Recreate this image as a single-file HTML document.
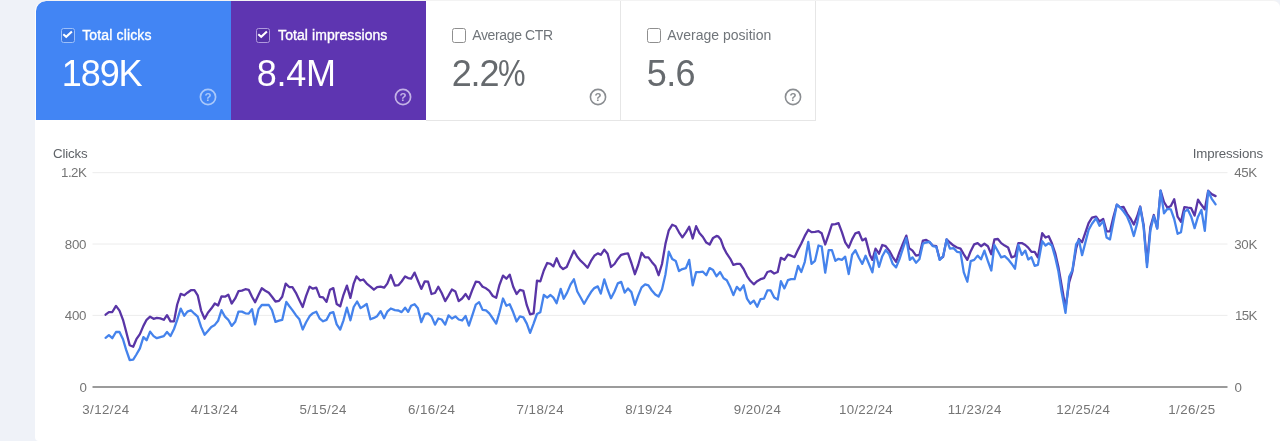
<!DOCTYPE html>
<html lang="en">
<head>
<meta charset="utf-8">
<title>Search performance</title>
<style>
html,body{margin:0;padding:0;}
body{width:1280px;height:441px;overflow:hidden;background:#eff2f8;font-family:"Liberation Sans",Arial,sans-serif;position:relative;}
.card{position:absolute;left:35px;top:0;width:1245px;height:441px;background:#fff;border-radius:11px 7px 0 4px;overflow:hidden;box-sizing:border-box;border-top:1px solid #f3f3f3;}
.tiles{position:absolute;left:0.5px;top:0;height:118.5px;display:flex;}
.tile{position:relative;width:195px;height:118.5px;box-sizing:border-box;}
.tile.blue{background:#4285f4;color:#fff;border-top-left-radius:10px;}
.tile.purple{background:#5e35b1;color:#fff;}
.tile.off{background:#fff;color:#5f6368;border-right:1px solid #e6e6e6;border-bottom:1px solid #e6e6e6;height:119.5px;}
.cb{position:absolute;left:25.4px;top:27.2px;width:14.5px;height:14.5px;box-sizing:border-box;border-radius:2.5px;}
.blue .cb{border:1.8px solid #9cc0fa;background:#3a78e4;}
.purple .cb{border:1.8px solid #b09ade;background:#5630a6;}
.off .cb{border:1.5px solid #8f8f8f;background:#fff;margin-left:0.8px;}
.cb svg{position:absolute;left:-1.8px;top:-1.8px;}
.lbl{position:absolute;left:46.7px;top:23.8px;font-size:14px;line-height:20px;white-space:nowrap;}
.on .lbl{font-weight:400;-webkit-text-stroke:0.35px #fff;}
.off .lbl{color:#70757a;}
.val{position:absolute;left:26.3px;top:52.5px;font-size:36px;line-height:40px;white-space:nowrap;}
.off .val{color:#666a6e;}
.help{position:absolute;left:162.5px;top:86.1px;width:20px;height:20px;}
.chart{position:absolute;left:0;top:0;}
.chart text{font-family:"Liberation Sans",Arial,sans-serif;font-size:13.3px;fill:#757575;}
.chart text.ttl{fill:#5f6368;}
</style>
</head>
<body>
<div class="card">
  <div class="tiles">
    <div class="tile blue on">
      <span class="cb"><svg width="14.5" height="14.5" viewBox="0 0 14.5 14.5"><path d="M3.3 7.3 L6.2 9.8 L11.9 4.5" fill="none" stroke="#fff" stroke-width="2.1" stroke-linecap="butt"/></svg></span>
      <span class="lbl" style="letter-spacing:0.15px">Total clicks</span>
      <span class="val" style="letter-spacing:-1.1px">189K</span>
      <svg class="help" viewBox="0 0 20 20"><circle cx="10" cy="10" r="7.6" fill="none" stroke="#a9c8fa" stroke-width="1.7"/><text x="10" y="14" text-anchor="middle" font-family="Liberation Sans, Arial, sans-serif" font-size="11.5" font-weight="bold" fill="#a9c8fa">?</text></svg>
    </div>
    <div class="tile purple on">
      <span class="cb"><svg width="14.5" height="14.5" viewBox="0 0 14.5 14.5"><path d="M3.3 7.3 L6.2 9.8 L11.9 4.5" fill="none" stroke="#fff" stroke-width="2.1" stroke-linecap="butt"/></svg></span>
      <span class="lbl" style="left:47.6px;letter-spacing:0.07px">Total impressions</span>
      <span class="val" style="letter-spacing:-0.3px">8.4M</span>
      <svg class="help" viewBox="0 0 20 20"><circle cx="10" cy="10" r="7.6" fill="none" stroke="#c3b2e6" stroke-width="1.7"/><text x="10" y="14" text-anchor="middle" font-family="Liberation Sans, Arial, sans-serif" font-size="11.5" font-weight="bold" fill="#c3b2e6">?</text></svg>
    </div>
    <div class="tile off">
      <span class="cb"></span>
      <span class="lbl" style="letter-spacing:-0.36px">Average CTR</span>
      <span class="val" style="letter-spacing:-1.2px">2.2<span style="display:inline-block;transform:scaleX(.86);transform-origin:0 0;">%</span></span>
      <svg class="help" viewBox="0 0 20 20"><circle cx="10" cy="10" r="7.6" fill="none" stroke="#8a8d91" stroke-width="1.6"/><text x="10" y="14" text-anchor="middle" font-family="Liberation Sans, Arial, sans-serif" font-size="11.5" font-weight="bold" fill="#8a8d91">?</text></svg>
    </div>
    <div class="tile off">
      <span class="cb"></span>
      <span class="lbl">Average position</span>
      <span class="val" style="letter-spacing:-0.6px">5.6</span>
      <svg class="help" viewBox="0 0 20 20"><circle cx="10" cy="10" r="7.6" fill="none" stroke="#8a8d91" stroke-width="1.6"/><text x="10" y="14" text-anchor="middle" font-family="Liberation Sans, Arial, sans-serif" font-size="11.5" font-weight="bold" fill="#8a8d91">?</text></svg>
    </div>
  </div>
</div>
<svg class="chart" width="1280" height="441" viewBox="0 0 1280 441">
  <g stroke="#ececec" stroke-width="1">
    <line x1="92.5" y1="172.7" x2="1227.5" y2="172.7"/>
    <line x1="92.5" y1="244.0" x2="1227.5" y2="244.0"/>
    <line x1="92.5" y1="315.4" x2="1227.5" y2="315.4"/>
  </g>
  <line x1="92.5" y1="387.1" x2="1227.5" y2="387.1" stroke="#7a7a7a" stroke-width="1.5"/>
  <text class="ttl" x="53" y="158.4" textLength="34.6" lengthAdjust="spacing">Clicks</text>
  <text x="61" y="176.8" textLength="25.8" lengthAdjust="spacing">1.2K</text>
  <text x="64.8" y="248.6" textLength="21.7" lengthAdjust="spacing">800</text>
  <text x="64.8" y="319.8" textLength="21.7" lengthAdjust="spacing">400</text>
  <text x="79.6" y="391.8">0</text>
  <text class="ttl" x="1192.8" y="158.4" textLength="70.3" lengthAdjust="spacing">Impressions</text>
  <text x="1234.3" y="176.8" textLength="22.8" lengthAdjust="spacing">45K</text>
  <text x="1234.3" y="248.6" textLength="23" lengthAdjust="spacing">30K</text>
  <text x="1235" y="319.8" textLength="22.4" lengthAdjust="spacing">15K</text>
  <text x="1234.6" y="391.8">0</text>
  <text x="82.2" y="414.2" textLength="47" lengthAdjust="spacing">3/12/24</text>
<text x="190.8" y="414.2" textLength="47" lengthAdjust="spacing">4/13/24</text>
<text x="299.4" y="414.2" textLength="47" lengthAdjust="spacing">5/15/24</text>
<text x="408.0" y="414.2" textLength="47" lengthAdjust="spacing">6/16/24</text>
<text x="516.6" y="414.2" textLength="47" lengthAdjust="spacing">7/18/24</text>
<text x="625.2" y="414.2" textLength="47" lengthAdjust="spacing">8/19/24</text>
<text x="733.8" y="414.2" textLength="47" lengthAdjust="spacing">9/20/24</text>
<text x="839.1" y="414.2" textLength="53.6" lengthAdjust="spacing">10/22/24</text>
<text x="947.7" y="414.2" textLength="53.6" lengthAdjust="spacing">11/23/24</text>
<text x="1056.3" y="414.2" textLength="53.6" lengthAdjust="spacing">12/25/24</text>
<text x="1168.2" y="414.2" textLength="47" lengthAdjust="spacing">1/26/25</text>

  <path d="M105.6 314.7 L108.9 312.2 L112.3 312.0 L116.0 305.9 L119.5 310.6 L123.0 319.8 L126.0 331.0 L129.7 345.3 L133.2 346.7 L136.4 339.2 L139.9 334.1 L143.4 325.9 L146.6 319.8 L150.1 316.7 L153.6 318.8 L156.8 317.8 L160.3 318.4 L163.8 319.8 L167.0 315.1 L170.5 321.4 L174.0 321.4 L177.2 304.5 L180.7 293.9 L184.2 295.3 L187.4 292.7 L190.9 290.2 L194.4 290.2 L197.7 295.3 L201.1 310.6 L204.6 318.8 L207.9 312.7 L211.3 308.6 L214.8 303.5 L218.1 305.5 L221.5 296.3 L225.0 296.7 L228.3 294.7 L231.7 303.5 L235.2 298.4 L238.5 291.2 L241.9 290.6 L245.4 289.2 L248.7 289.8 L252.0 296.8 L255.1 302.3 L258.6 294.8 L261.8 288.3 L265.3 290.7 L268.8 292.8 L272.0 296.8 L275.5 301.5 L279.0 300.9 L282.2 296.8 L285.7 283.6 L289.2 287.0 L292.4 287.2 L295.9 292.8 L299.4 300.3 L302.7 307.0 L306.1 295.8 L309.6 286.6 L312.9 288.7 L316.3 287.7 L319.8 296.8 L323.1 297.4 L326.5 301.9 L330.0 289.7 L333.3 288.1 L336.7 304.0 L340.2 306.4 L343.5 294.8 L346.9 285.6 L350.4 297.9 L353.7 283.6 L356.5 276.4 L360.2 280.5 L363.3 279.5 L366.7 283.6 L370.4 286.6 L373.9 289.7 L377.1 287.2 L380.6 286.6 L384.1 287.7 L387.3 283.6 L390.8 275.0 L394.9 285.6 L398.4 285.2 L401.6 281.5 L405.1 276.4 L408.1 278.1 L411.1 278.7 L414.6 272.6 L417.9 280.7 L421.3 288.9 L424.8 281.3 L428.1 281.7 L431.5 294.0 L435.0 293.0 L438.3 286.8 L441.7 293.0 L445.2 301.1 L448.5 295.6 L451.9 289.5 L455.4 291.5 L458.7 301.1 L462.1 298.5 L465.6 294.0 L468.9 299.1 L472.3 289.9 L475.8 281.7 L479.1 282.1 L482.6 286.8 L486.0 288.3 L489.3 290.9 L492.8 296.0 L496.2 297.7 L499.5 284.8 L503.0 275.6 L506.4 278.7 L509.7 274.6 L513.2 286.8 L516.6 294.0 L519.9 289.9 L523.4 290.9 L526.8 305.2 L530.1 314.4 L533.6 313.4 L537.0 280.7 L540.3 281.3 L543.8 270.5 L547.2 263.0 L550.5 263.8 L553.4 266.4 L556.6 258.3 L560.1 266.4 L563.1 269.1 L566.7 267.0 L570.2 258.9 L573.9 250.7 L577.3 256.8 L580.8 260.9 L584.1 264.0 L587.6 267.7 L591.0 260.9 L594.3 255.8 L597.8 253.4 L600.8 254.8 L604.3 249.7 L607.6 253.8 L611.0 267.0 L614.5 264.0 L617.8 258.9 L621.2 254.8 L624.7 253.8 L628.0 253.4 L631.4 263.0 L634.9 274.2 L638.2 265.0 L641.6 252.8 L645.1 257.4 L648.4 257.4 L651.8 261.9 L655.3 266.0 L658.6 275.2 L662.0 264.0 L665.5 243.6 L668.8 230.3 L672.2 224.8 L675.7 226.2 L679.0 232.3 L682.4 237.4 L685.9 232.3 L689.2 226.8 L692.7 238.5 L696.1 226.2 L699.4 233.0 L702.9 237.0 L706.3 242.6 L709.6 244.6 L713.1 237.9 L716.5 236.0 L718.1 236.3 L720.7 239.4 L723.6 247.6 L726.8 253.7 L730.3 258.8 L733.4 264.9 L736.8 263.9 L740.1 263.9 L743.6 269.0 L747.0 276.1 L750.3 280.8 L753.8 284.3 L757.2 281.2 L760.5 279.2 L764.0 278.2 L767.4 272.0 L770.7 271.0 L774.2 273.5 L777.7 272.0 L780.9 257.8 L784.4 259.8 L787.9 254.7 L791.1 255.7 L794.6 257.1 L798.1 249.6 L801.3 243.5 L804.8 235.9 L808.3 229.8 L811.5 232.2 L815.0 231.8 L818.5 231.2 L821.7 233.3 L825.2 244.5 L828.7 234.3 L831.9 224.5 L835.4 224.1 L838.5 223.1 L841.9 232.2 L845.2 242.4 L848.7 247.6 L852.1 239.4 L855.4 233.3 L858.9 232.2 L862.3 240.4 L865.6 238.4 L869.9 254.9 L872.4 259.9 L875.5 248.7 L879.0 253.7 L882.3 245.0 L885.7 246.2 L889.2 250.6 L892.6 256.8 L896.1 261.8 L899.4 252.4 L902.9 243.7 L906.3 235.6 L909.1 248.1 L912.5 250.6 L916.0 255.6 L919.4 254.9 L922.9 240.6 L926.2 240.0 L929.1 241.8 L932.8 245.6 L936.3 246.2 L939.7 259.3 L943.1 256.8 L946.6 239.4 L949.9 242.5 L953.6 245.6 L957.0 247.5 L960.5 248.7 L963.8 254.3 L967.3 259.9 L970.7 251.2 L974.2 244.3 L977.6 243.1 L981.0 246.2 L984.4 243.7 L987.9 246.2 L991.3 254.3 L994.4 239.4 L997.9 239.0 L1001.2 243.1 L1004.7 245.6 L1008.1 247.5 L1011.6 257.4 L1015.0 256.2 L1018.4 243.1 L1021.8 243.1 L1025.3 245.0 L1028.2 247.6 L1031.5 251.9 L1034.7 251.9 L1037.9 257.3 L1042.2 233.2 L1045.5 237.5 L1048.7 236.2 L1051.9 243.3 L1055.2 253.0 L1058.4 267.0 L1061.6 285.3 L1065.5 308.0 L1069.2 282.1 L1072.4 271.3 L1076.1 248.7 L1078.9 239.0 L1082.1 242.2 L1088.6 223.1 L1092.0 217.7 L1096.1 216.6 L1099.5 221.5 L1103.2 219.0 L1106.6 231.3 L1110.0 231.3 L1113.4 217.0 L1116.8 204.7 L1120.2 207.4 L1123.6 207.0 L1127.0 213.6 L1130.4 218.3 L1133.8 224.5 L1137.2 216.3 L1140.2 206.5 L1143.6 224.7 L1147.0 263.2 L1150.4 227.0 L1153.8 215.0 L1157.2 228.1 L1160.6 190.7 L1164.0 202.0 L1167.4 207.7 L1170.8 206.0 L1174.2 199.2 L1177.6 216.7 L1181.0 221.8 L1184.4 207.1 L1187.8 207.7 L1191.2 208.2 L1194.6 215.6 L1198.0 199.7 L1201.4 204.8 L1204.8 209.4 L1208.2 190.7 L1211.6 194.1 L1215.6 196.1" fill="none" stroke="#5935a6" stroke-width="2.3" stroke-linejoin="round" stroke-linecap="round"/>
  <path d="M105.6 337.8 L108.9 335.1 L112.3 338.2 L116.0 332.0 L119.5 332.0 L123.0 339.2 L126.0 349.4 L129.7 360.0 L133.2 359.6 L136.4 354.5 L139.9 348.4 L143.4 337.1 L146.6 340.2 L150.1 331.6 L153.6 336.1 L156.8 338.2 L160.3 337.1 L163.8 336.1 L167.0 332.0 L170.5 336.1 L174.0 329.0 L177.2 319.8 L180.7 308.6 L184.2 315.7 L187.4 311.6 L190.9 310.2 L194.4 313.7 L197.7 316.7 L201.1 326.9 L204.6 334.7 L207.9 331.0 L211.3 326.9 L214.8 324.9 L218.1 320.8 L221.5 310.2 L225.0 316.7 L228.3 319.8 L231.7 325.9 L235.2 321.8 L238.5 311.6 L241.9 311.6 L245.4 313.3 L248.7 313.7 L252.0 309.1 L255.1 324.4 L258.6 309.1 L261.8 305.0 L265.3 305.0 L268.8 305.0 L272.0 310.1 L275.5 321.9 L279.0 320.7 L282.2 319.9 L286.3 301.9 L289.2 306.0 L292.4 310.1 L295.9 315.2 L299.4 319.3 L302.7 329.5 L306.1 322.3 L309.6 316.2 L312.9 313.2 L316.3 311.7 L319.8 318.7 L323.1 321.3 L326.5 319.9 L330.0 313.2 L333.3 312.1 L336.7 324.4 L340.2 329.5 L343.5 320.3 L346.9 307.7 L350.4 320.3 L353.7 307.0 L357.1 301.5 L360.6 308.1 L363.9 306.0 L366.7 304.0 L370.4 319.3 L373.9 317.9 L377.1 316.2 L380.6 311.1 L384.1 318.3 L387.3 311.7 L390.8 308.5 L394.9 310.1 L398.4 310.5 L401.6 312.1 L405.1 307.7 L408.1 311.9 L411.1 305.8 L414.6 304.2 L417.9 308.3 L421.3 322.1 L424.8 314.0 L428.1 313.4 L431.5 316.4 L435.0 324.6 L438.3 318.5 L441.7 319.5 L445.2 324.6 L448.5 315.4 L451.9 318.5 L455.4 316.4 L458.7 319.5 L462.1 320.5 L465.6 316.0 L468.9 325.6 L472.3 315.4 L475.8 304.6 L479.1 302.1 L482.6 309.9 L486.0 310.3 L489.3 313.4 L492.8 318.5 L496.2 323.6 L499.5 312.3 L503.0 298.5 L506.4 305.8 L509.7 304.2 L513.2 312.3 L516.6 321.5 L519.9 316.4 L523.4 317.4 L526.8 323.6 L530.1 332.8 L533.6 323.6 L537.0 314.0 L540.3 312.3 L543.8 295.0 L547.2 297.7 L550.5 295.0 L553.4 297.7 L556.6 303.2 L560.7 288.9 L563.7 298.7 L567.1 292.6 L570.6 284.4 L573.9 279.3 L577.3 291.5 L580.8 297.7 L584.1 303.8 L587.6 297.7 L591.0 292.1 L594.3 288.1 L597.8 286.4 L600.8 293.6 L604.3 279.3 L607.6 289.5 L611.0 298.3 L614.5 291.5 L617.8 283.4 L621.2 281.9 L624.7 292.6 L628.0 288.5 L631.4 292.1 L634.9 304.8 L638.2 295.6 L641.6 287.4 L645.1 284.4 L648.4 285.4 L651.8 290.5 L655.3 294.6 L658.6 296.6 L662.0 289.5 L665.5 274.2 L668.8 251.7 L672.2 258.9 L675.7 260.9 L679.0 271.1 L682.4 269.1 L685.9 268.1 L689.2 259.9 L692.7 285.4 L696.1 272.1 L699.4 272.1 L702.9 271.7 L706.3 275.2 L709.6 268.1 L713.1 270.1 L716.5 276.2 L720.1 272.0 L723.6 278.2 L726.8 280.2 L730.3 287.3 L733.4 295.1 L736.8 286.9 L740.1 290.4 L743.6 285.3 L747.0 298.6 L750.3 303.7 L753.8 300.6 L757.2 306.7 L760.5 299.2 L764.0 298.6 L767.4 290.4 L770.7 290.4 L774.2 297.6 L777.7 299.6 L780.9 281.2 L784.4 288.4 L787.9 280.2 L791.1 279.2 L794.6 279.2 L798.1 265.9 L801.3 272.0 L804.8 261.8 L808.3 242.0 L811.5 263.9 L815.0 260.8 L818.5 245.5 L821.7 246.5 L825.2 272.7 L828.7 250.2 L831.9 250.2 L835.4 260.8 L838.5 258.8 L841.9 259.8 L845.2 256.7 L848.7 274.1 L852.1 254.7 L855.4 250.2 L858.9 257.8 L862.3 263.9 L865.6 255.7 L872.4 272.4 L875.5 252.4 L879.0 266.8 L882.3 256.2 L885.7 250.0 L889.2 254.3 L892.6 263.7 L896.1 267.4 L899.4 259.3 L902.9 248.7 L906.3 238.1 L909.8 259.9 L912.5 257.4 L916.0 262.7 L919.4 259.3 L922.9 243.7 L926.2 242.5 L929.7 241.8 L932.8 246.2 L936.3 246.8 L939.7 259.9 L943.1 256.2 L946.6 239.4 L949.9 248.7 L953.6 248.1 L957.0 251.8 L960.5 252.4 L963.8 272.4 L967.3 281.7 L970.7 261.2 L974.2 259.9 L977.6 255.6 L981.0 259.3 L984.4 250.6 L987.9 261.2 L991.3 270.5 L994.4 245.0 L997.9 251.2 L1001.2 257.4 L1004.7 256.2 L1008.1 259.3 L1011.6 263.7 L1015.0 268.7 L1018.4 245.0 L1021.8 254.9 L1025.3 250.6 L1028.2 259.5 L1031.5 257.3 L1034.7 265.9 L1037.9 264.9 L1042.2 241.2 L1045.5 245.5 L1048.7 243.3 L1051.9 245.5 L1055.2 257.3 L1058.4 271.3 L1061.6 291.8 L1065.5 312.9 L1069.2 276.7 L1072.4 270.3 L1076.1 244.4 L1078.9 240.1 L1082.1 255.2 L1088.6 229.9 L1092.0 223.8 L1096.1 218.3 L1099.5 225.8 L1103.2 221.1 L1106.6 237.4 L1110.0 239.4 L1113.4 221.7 L1116.8 204.7 L1120.2 207.4 L1123.6 211.5 L1127.0 216.3 L1130.4 224.5 L1133.8 236.0 L1137.2 223.1 L1140.2 207.1 L1143.6 227.0 L1147.0 267.2 L1150.4 230.4 L1153.8 216.2 L1157.2 228.7 L1160.6 190.7 L1164.0 213.3 L1167.4 208.8 L1170.8 209.4 L1174.2 219.0 L1177.6 233.8 L1181.0 232.1 L1184.4 211.6 L1187.8 209.4 L1191.2 216.7 L1194.6 228.1 L1198.0 216.7 L1201.4 209.9 L1204.8 230.9 L1208.2 191.2 L1211.6 198.6 L1215.6 204.3" fill="none" stroke="#4583ec" stroke-width="2.3" stroke-linejoin="round" stroke-linecap="round"/>
</svg>
</body>
</html>
